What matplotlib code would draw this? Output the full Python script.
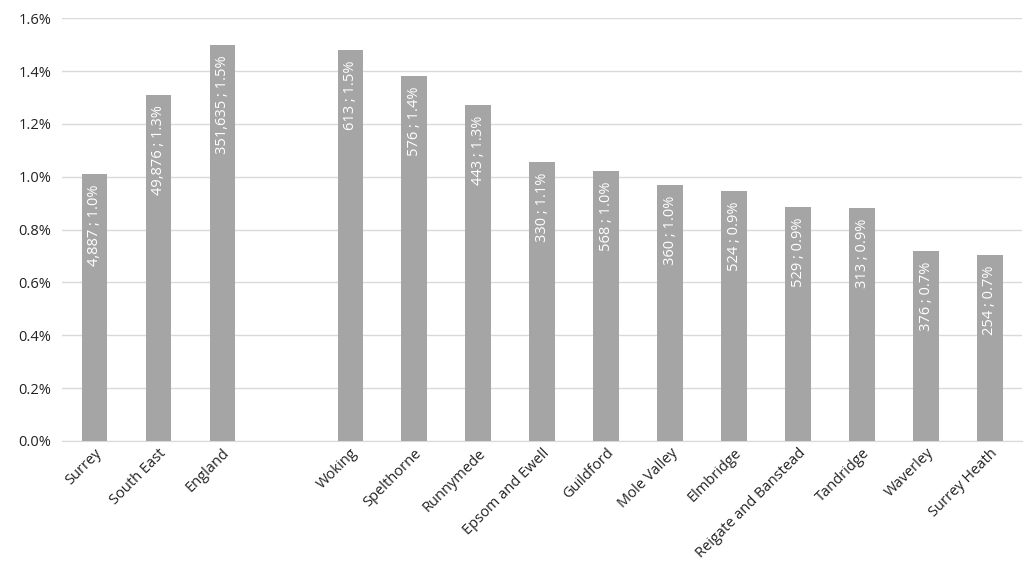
import matplotlib
matplotlib.use("Agg")
import matplotlib.pyplot as plt
from matplotlib.ticker import FuncFormatter

categories = ["Surrey", "South East", "England", "", "Woking", "Spelthorne", "Runnymede",
              "Epsom and Ewell", "Guildford", "Mole Valley", "Elmbridge",
              "Reigate and Banstead", "Tandridge", "Waverley", "Surrey Heath"]
values = [1.01, 1.31, 1.50, None, 1.48, 1.38, 1.27, 1.055, 1.02, 0.97, 0.945, 0.885, 0.88, 0.72, 0.705]
labels = ["4,887 ; 1.0%", "49,876 ; 1.3%", "351,635 ; 1.5%", "", "613 ; 1.5%", "576 ; 1.4%",
          "443 ; 1.3%", "330 ; 1.1%", "568 ; 1.0%", "360 ; 1.0%", "524 ; 0.9%",
          "529 ; 0.9%", "313 ; 0.9%", "376 ; 0.7%", "254 ; 0.7%"]

plt.rcParams['font.family'] = ['Open Sans', 'DejaVu Sans']
fig = plt.figure(figsize=(10.24, 5.87), dpi=100)
ax = fig.add_axes([0.061, 0.249, 0.937, 0.72])
x = list(range(len(categories)))
h = [v if v is not None else 0 for v in values]
ax.bar(x, h, width=0.4, color="#a5a5a5", zorder=3)
for xi, v, lab in zip(x, values, labels):
    if v is None:
        continue
    ax.text(xi, v - 0.04, lab, rotation=90, ha="center", va="top", color="white", fontsize=10.5, zorder=4)
ax.set_xlim(-0.5, len(categories) - 0.5)
ax.set_ylim(0, 1.6)
ax.set_yticks([i * 0.2 for i in range(9)])
ax.yaxis.set_major_formatter(FuncFormatter(lambda v, p: f"{v:.1f}%"))
ax.grid(axis="y", color="#d9d9d9", linewidth=1, zorder=0)
ax.set_xticks(x)
ax.set_xticklabels(categories, rotation=45, ha="right", rotation_mode="anchor", fontsize=10.5, color="#222222")
for s in ["top", "right", "left"]:
    ax.spines[s].set_visible(False)
ax.spines["bottom"].set_color("#d9d9d9")
ax.tick_params(axis="both", length=0, labelsize=10.5, colors="#222222")
ax.tick_params(axis="y", pad=8)
fig.savefig("out.png", dpi=100)
